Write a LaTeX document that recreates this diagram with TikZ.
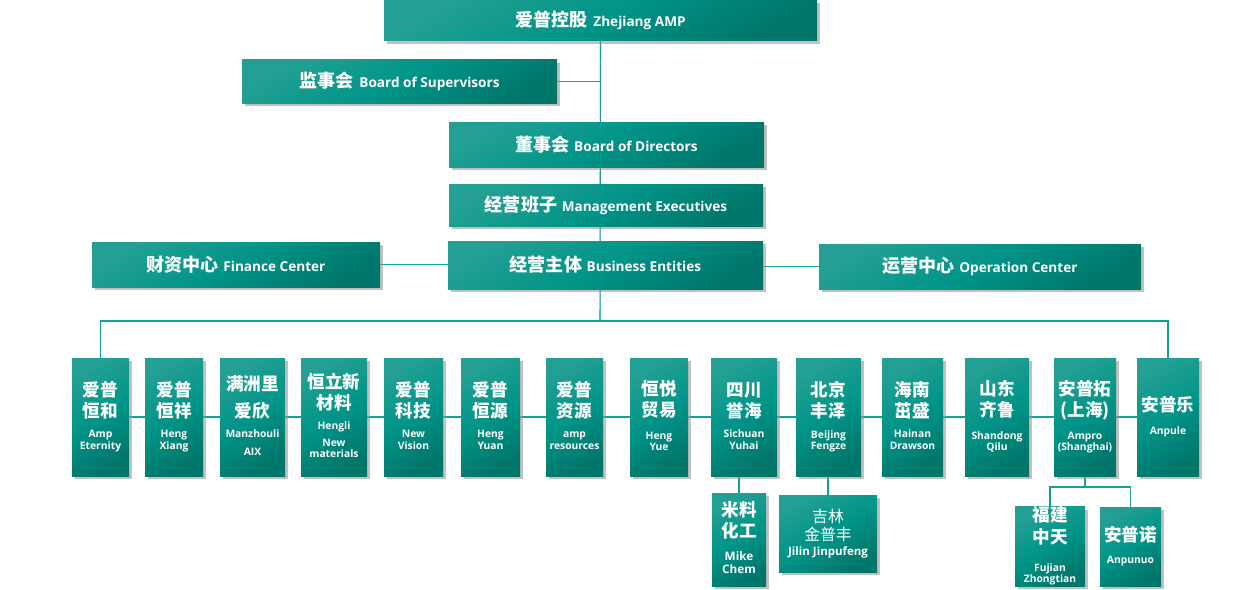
\documentclass[tikz,border=0pt]{standalone}
\usepackage{fontspec}
\usetikzlibrary{shadows,backgrounds}
\newfontfamily\cjk{Noto Sans CJK SC}
\newfontfamily\enfont{Open Sans}
\definecolor{boxlight}{HTML}{23A093}
\definecolor{boxmid}{HTML}{009488}
\definecolor{boxdark}{HTML}{00766A}
\definecolor{linkteal}{HTML}{13A096}
\newcommand\zhbig{\cjk\bfseries\fontsize{15.4pt}{18pt}\selectfont}
\newcommand\enbig{\enfont\bfseries\fontsize{11.6pt}{13pt}\selectfont}
\newcommand\zhsm{\cjk\bfseries\fontsize{15pt}{18pt}\selectfont}
\newcommand\ensm{\enfont\bfseries\fontsize{8.8pt}{9.6pt}\selectfont}
\newcommand\zhcell[1]{{\zhsm\begin{tabular}{@{}c@{}}#1\end{tabular}}}
\newcommand\encell[1]{{\ensm\begin{tabular}{@{}c@{}}#1\end{tabular}}}

\begin{document}
\begin{tikzpicture}[x=0.03cm,y=-0.03cm,
    orgbox/.style={draw=none, top color=boxlight, bottom color=boxdark, middle color=boxmid, shading angle=30,
        text=white, inner sep=0pt, align=center,
        drop shadow={shadow xshift=2.5pt, shadow yshift=-2.5pt, fill=black!40, opacity=.6}},
    dims/.style 2 args={minimum width=#1*0.03cm, minimum height=#2*0.03cm},
    link/.style={draw=linkteal, line width=0.9pt}]
    \useasboundingbox (0,0) rectangle (1234,590);
    % head office and boards
    \node[orgbox, dims={433}{41}] (amp) at (600.5,20.5) {\zhbig 爱普控股\hspace{5pt}\enbig Zhejiang AMP};
    \node[orgbox, dims={315}{43}] (sup) at (399.5,81.5) {\zhbig 监事会\hspace{5pt}\enbig Board of Supervisors};
    \node[orgbox, dims={315}{45}] (dir) at (606.5,144.5) {\zhbig 董事会\hspace{4pt}\enbig Board of Directors};
    \node[orgbox, dims={314}{42}] (mgmt) at (606,205) {\zhbig 经营班子\hspace{4pt}\enbig Management Executives};
    \node[orgbox, dims={315}{48}] (biz) at (605.5,265) {\zhbig 经营主体\hspace{4pt}\enbig Business Entities};
    \node[orgbox, dims={288}{45}] (fin) at (236,264.5) {\zhbig 财资中心\hspace{4pt}\enbig Finance Center};
    \node[orgbox, dims={322}{45}] (ops) at (980,266.5) {\zhbig 运营中心\hspace{4pt}\enbig Operation Center};
    \coordinate (bus) at (600,321);
    % companies
    \node[orgbox, dims={57}{118}] (hh) at (100.5,417) {\zhcell{爱普\\恒和}\\[4pt]\encell{Amp\\Eternity}};
    \node[orgbox, dims={58}{118}] (hx) at (174,417) {\zhcell{爱普\\恒祥}\\[4pt]\encell{Heng\\Xiang}};
    \node[orgbox, dims={65}{118}] (mz) at (252.5,417) {\zhcell{满洲里\\[5pt]爱欣}\\[4pt]\encell{Manzhouli\\[5pt]AIX}};
    \node[orgbox, dims={66}{118}] (hl) at (334,417) {\zhcell{恒立新\\材料}\\[4pt]\encell{Hengli\\[5pt]New\\materials}};
    \node[orgbox, dims={59}{118}] (kj) at (413.5,417) {\zhcell{爱普\\科技}\\[4pt]\encell{New\\Vision}};
    \node[orgbox, dims={59}{118}] (hy) at (490.5,417) {\zhcell{爱普\\恒源}\\[4pt]\encell{Heng\\Yuan}};
    \node[orgbox, dims={57}{118}] (zy) at (574.5,417) {\zhcell{爱普\\资源}\\[4pt]\encell{amp\\resources}};
    \node[orgbox, dims={58}{118}] (my) at (659,417) {\zhcell{恒悦\\贸易}\\[6pt]\encell{Heng\\Yue}};
    \node[orgbox, dims={66}{118}] (sc) at (744,417) {\zhcell{四川\\誉海}\\[4pt]\encell{Sichuan\\Yuhai}};
    \node[orgbox, dims={65}{118}] (bj) at (828.5,417) {\zhcell{北京\\丰泽}\\[4pt]\encell{Beijing\\Fengze}};
    \node[orgbox, dims={61}{118}] (hn) at (912.5,417) {\zhcell{海南\\茁盛}\\[4pt]\encell{Hainan\\Drawson}};
    \node[orgbox, dims={64}{118}] (sd) at (997,417) {\zhcell{山东\\齐鲁}\\[6pt]\encell{Shandong\\Qilu}};
    \node[orgbox, dims={62}{118}] (apt) at (1085,417) {\zhcell{安普拓\\(上海)}\\[6pt]\encell{Ampro\\(Shanghai)}};
    \node[orgbox, dims={62}{118}] (apl) at (1168,417) {\zhcell{安普乐}\\[6pt]\encell{Anpule}};
    % second level
    \node[orgbox, dims={54}{93}] (mk) at (739,539.5) {\zhcell{米料\\化工}\\[5pt]{\enfont\bfseries\fontsize{10pt}{11.5pt}\selectfont\begin{tabular}{@{}c@{}}Mike\\Chem\end{tabular}}};
    \node[orgbox, dims={98}{77}] (jl) at (828,533.5) {{\cjk\fontsize{13.5pt}{14pt}\selectfont\begin{tabular}{@{}c@{}}吉林\\金普丰\end{tabular}}\\{\enfont\bfseries\fontsize{9.8pt}{11pt}\selectfont Jilin Jinpufeng}};
    \node[orgbox, dims={70}{79}] (fj) at (1050,546.5) {\zhcell{福建\\中天}\\[11pt]\encell{Fujian\\Zhongtian}};
    \node[orgbox, dims={61}{79}] (apn) at (1130.5,546.5) {\zhcell{安普诺}\\[6pt]\encell{Anpunuo}};
    \coordinate (apbr) at (1085,487);
    % connectors
    \begin{scope}[on background layer]
        \fill[white] (0,0) rectangle (1234,590);
        \draw[link] (amp.south) -- (bus);
        \draw[link] (sup.east) -- (sup.east -| amp.south);
        \draw[link] (fin.east) -- (fin.east -| biz.west);
        \draw[link] (ops.west -| biz.east) -- (ops.west);
        \draw[link] (hh.north) |- (bus) -| (apl.north);
        \draw[link] (hh) -- (apl);
        \draw[link] (mk.north) -- (mk.north |- sc.south);
        \draw[link] (jl.north) -- (jl.north |- bj.south);
        \draw[link] (apt.south) -- (apbr);
        \draw[link] (fj.north) |- (apbr) -| (apn.north);
    \end{scope}
    \draw[link, opacity=.35] (amp.south) -- (bus);
\end{tikzpicture}
\end{document}
